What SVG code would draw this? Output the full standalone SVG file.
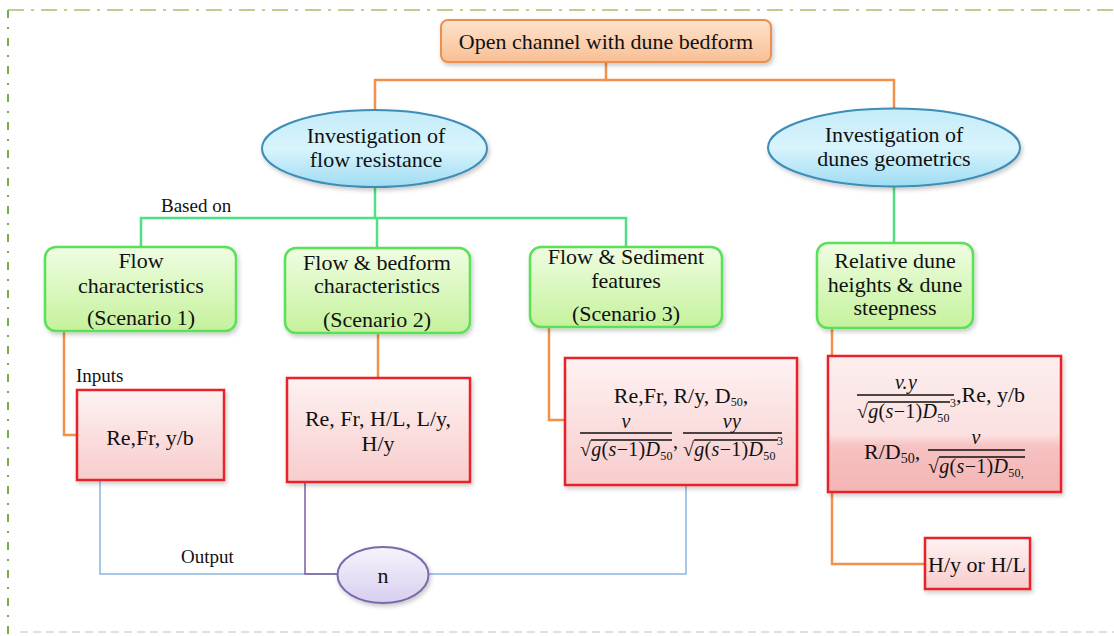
<svg xmlns="http://www.w3.org/2000/svg" width="1114" height="636" viewBox="0 0 1114 636">
<defs>
<linearGradient id="gOr" x1="0" y1="0" x2="0" y2="1"><stop offset="0" stop-color="#fde3cc"/><stop offset="1" stop-color="#f9bf94"/></linearGradient>
<linearGradient id="gBl" x1="0" y1="0" x2="0" y2="1"><stop offset="0" stop-color="#c4ecf9"/><stop offset="0.5" stop-color="#d8f4fc"/><stop offset="1" stop-color="#9fdcf3"/></linearGradient>
<linearGradient id="gGr" x1="0" y1="0" x2="0" y2="1"><stop offset="0" stop-color="#effde2"/><stop offset="1" stop-color="#c5f29c"/></linearGradient>
<linearGradient id="gRd" x1="0" y1="0" x2="0" y2="1"><stop offset="0" stop-color="#fef2f2"/><stop offset="1" stop-color="#f8cccc"/></linearGradient>
<linearGradient id="gRd2" x1="0" y1="0" x2="0" y2="1"><stop offset="0" stop-color="#fdeeee"/><stop offset="0.58" stop-color="#fbe0e0"/><stop offset="0.66" stop-color="#f7c2c2"/><stop offset="1" stop-color="#f4b4b4"/></linearGradient>
<linearGradient id="gPu" x1="0" y1="0" x2="0" y2="1"><stop offset="0" stop-color="#f6f3fc"/><stop offset="1" stop-color="#d8cfee"/></linearGradient>
<filter id="sh" x="-10%" y="-10%" width="125%" height="130%"><feDropShadow dx="1.5" dy="2.5" stdDeviation="2" flood-color="#000" flood-opacity="0.22"/></filter>
</defs>
<style>
text{font-family:"Liberation Serif","Times New Roman",serif;fill:#111}
.t{font-size:22px;text-anchor:middle}
.l{font-size:19px}
.m{font-size:20px;letter-spacing:0.3px}
.i{font-style:italic}
.sub{font-size:12px}
.oc{fill:none;stroke:#f0914c;stroke-width:2.5}
.gc{fill:none;stroke:#4fe083;stroke-width:2.5}
.bc{fill:none;stroke:#8cb5e0;stroke-width:1.5}
.pc{fill:none;stroke:#7b5fa0;stroke-width:1.5}
.gb{fill:url(#gGr);stroke:#5ce05a;stroke-width:2.5}
.rb{fill:url(#gRd);stroke:#e8242b;stroke-width:2.5}
.bar{stroke:#111;stroke-width:1.4}
</style>
<rect width="1114" height="636" fill="#fff"/>
<g id="border">
<line x1="8" y1="10" x2="1114" y2="10" stroke="#a6bf6e" stroke-width="1.6" stroke-dasharray="16 7 3 7"/>
<line x1="8" y1="10" x2="8" y2="636" stroke="#74b043" stroke-width="2" stroke-dasharray="8 9 2 9"/>
<line x1="20" y1="632" x2="1114" y2="632" stroke="#d6d6d6" stroke-width="1.5" stroke-dasharray="8 5"/>
</g>
<g id="connectors">
<polyline class="oc" points="606,62 606,80 375,80 375,110"/>
<polyline class="oc" points="606,80 894,80 894,108"/>
<polyline class="gc" points="375,187 375,218 141,218 141,247"/>
<polyline class="gc" points="375,218 626,218 626,247"/>
<line class="gc" x1="377" y1="218" x2="377" y2="248"/>
<line class="gc" x1="894" y1="187" x2="894" y2="243" stroke="#4ddf4d"/>
<polyline class="oc" points="64,332 64,435 77,435"/>
<line class="oc" x1="378" y1="334" x2="378" y2="378"/>
<polyline class="oc" points="549,327 549,420 565,420"/>
<line class="oc" x1="832" y1="328" x2="832" y2="356"/>
<polyline class="oc" points="832,492 832,564 925,564"/>
<polyline class="bc" points="100,480 100,574 337,574"/>
<polyline class="pc" points="305,482 305,574 338,574"/>
<polyline class="bc" points="429,574 686,574 686,485"/>
</g>
<g id="top">
<rect x="441" y="20" width="330" height="42" rx="7" fill="url(#gOr)" stroke="#ee8f4f" stroke-width="2" filter="url(#sh)"/>
<text class="t" x="606" y="49">Open channel with dune bedform</text>
</g>
<g id="flowres">
<ellipse cx="374.5" cy="148.5" rx="112.5" ry="38.5" fill="url(#gBl)" stroke="#3e8db7" stroke-width="2" filter="url(#sh)"/>
<text class="t" x="376" y="143">Investigation of</text>
<text class="t" x="376" y="167">flow resistance</text>
</g>
<g id="dunegeo">
<ellipse cx="894" cy="147.5" rx="126" ry="39" fill="url(#gBl)" stroke="#3e8db7" stroke-width="2" filter="url(#sh)"/>
<text class="t" x="894" y="142">Investigation of</text>
<text class="t" x="894" y="166">dunes geometrics</text>
</g>
<text class="l" x="161" y="212">Based on</text>
<g id="s1">
<rect class="gb" x="45" y="247" width="191" height="84" rx="11" filter="url(#sh)"/>
<text class="t" x="141" y="268">Flow</text>
<text class="t" x="141" y="293">characteristics</text>
<text class="t" x="141" y="325">(Scenario 1)</text>
</g>
<g id="s2">
<rect class="gb" x="285" y="248" width="185" height="85" rx="11" filter="url(#sh)"/>
<text class="t" x="377" y="270">Flow &amp; bedform</text>
<text class="t" x="377" y="293">characteristics</text>
<text class="t" x="377" y="327">(Scenario 2)</text>
</g>
<g id="s3">
<rect class="gb" x="530" y="247" width="192" height="80" rx="11" filter="url(#sh)"/>
<text class="t" x="626" y="264">Flow &amp; Sediment</text>
<text class="t" x="626" y="288">features</text>
<text class="t" x="626" y="321">(Scenario 3)</text>
</g>
<g id="s4">
<rect class="gb" x="817" y="243" width="156" height="85" rx="11" filter="url(#sh)"/>
<text class="t" x="895" y="268">Relative dune</text>
<text class="t" x="895" y="292">heights &amp; dune</text>
<text class="t" x="895" y="315">steepness</text>
</g>
<text class="l" x="76" y="382">Inputs</text>
<g id="in1">
<rect class="rb" x="77" y="390" width="147" height="90" stroke="#c04a4c" filter="url(#sh)"/>
<text class="t" x="150" y="445">Re,Fr, y/b</text>
</g>
<g id="in2">
<rect class="rb" x="287" y="378" width="183" height="104" filter="url(#sh)"/>
<text class="t" x="378" y="426">Re, Fr, H/L, L/y,</text>
<text class="t" x="378" y="451">H/y</text>
</g>
<g id="in3">
<rect class="rb" x="565" y="358" width="232" height="127" filter="url(#sh)"/>
<text class="t" x="681" y="403">Re,Fr, R/y, D<tspan class="sub" dy="3">50</tspan><tspan dy="-3">,</tspan></text>
<text class="m i" x="626" y="428" text-anchor="middle">v</text>
<line class="bar" x1="580" y1="433" x2="672" y2="433"/>
<text class="m" x="580" y="456">√<tspan class="i">g</tspan>(<tspan class="i">s</tspan>−1)<tspan class="i">D</tspan><tspan class="sub" dy="4">50</tspan></text>
<line class="bar" x1="591" y1="440" x2="672" y2="440"/>
<text class="m" x="673" y="448">,</text>
<text class="m i" x="732" y="428" text-anchor="middle">vy</text>
<line class="bar" x1="683" y1="433" x2="782" y2="433"/>
<text class="m" x="683" y="456">√<tspan class="i">g</tspan>(<tspan class="i">s</tspan>−1)<tspan class="i">D</tspan><tspan class="sub" dy="4">50</tspan></text>
<line class="bar" x1="694" y1="440" x2="778" y2="440"/>
<text class="sub" x="777" y="445">3</text>
</g>
<g id="in4">
<rect x="828" y="356" width="233" height="136" fill="url(#gRd2)" stroke="#e8242b" stroke-width="2.5" filter="url(#sh)"/>
<text class="m i" x="906" y="389" text-anchor="middle">v.y</text>
<line class="bar" x1="857" y1="395" x2="954" y2="395"/>
<text class="m" x="857" y="418">√<tspan class="i">g</tspan>(<tspan class="i">s</tspan>−1)<tspan class="i">D</tspan><tspan class="sub" dy="4">50</tspan></text>
<line class="bar" x1="868" y1="402" x2="950" y2="402"/>
<text class="sub" x="950" y="407">3</text>
<text style="font-size:22px" x="956" y="402">,Re, y/b</text>
<text style="font-size:22px" x="864" y="459">R/D<tspan class="sub" style="font-size:14px" dy="4">50</tspan><tspan dy="-4">,</tspan></text>
<text class="m i" x="976" y="444" text-anchor="middle">v</text>
<line class="bar" x1="928" y1="450" x2="1025" y2="450"/>
<text class="m" x="928" y="473">√<tspan class="i">g</tspan>(<tspan class="i">s</tspan>−1)<tspan class="i">D</tspan><tspan class="sub" dy="4">50,</tspan></text>
<line class="bar" x1="939" y1="457" x2="1025" y2="457"/>
</g>
<g id="out">
<rect class="rb" x="925" y="538" width="105" height="51" filter="url(#sh)"/>
<text class="t" x="977" y="572">H/y or H/L</text>
</g>
<text class="l" x="181" y="563">Output</text>
<g id="n">
<ellipse cx="383" cy="575" rx="45.5" ry="28" fill="url(#gPu)" stroke="#7e67ad" stroke-width="2" filter="url(#sh)"/>
<text class="t" x="383" y="583">n</text>
</g>
</svg>
